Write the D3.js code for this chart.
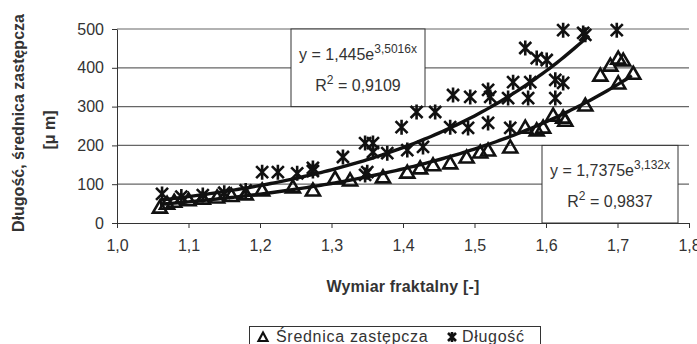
<!DOCTYPE html>
<meta charset="utf-8">
<style>
  body { margin: 0; background: #fff; }
  svg { display: block; }
  text { font-family: "Liberation Sans", Arial, sans-serif; fill: #333; }
  .grid line { stroke: #666; stroke-width: 1.2; }
  .axis path, .axis line { stroke: #333; }
  .mark { fill: none; stroke: #111; stroke-width: 2.6; }
  .fit { fill: none; stroke: #111; stroke-width: 3.4; }
  .box { fill: #fff; stroke: #333; stroke-width: 1; }
</style>
<body>
<svg width="697" height="344"></svg>
<script src="https://d3js.org/d3.v7.min.js"></script>
<script>
const xTicks = [1.0, 1.1, 1.2, 1.3, 1.4, 1.5, 1.6, 1.7, 1.8];
const yTicks = [0, 100, 200, 300, 400, 500];

// Średnica zastępcza (triangles)
const diamX = [1.06, 1.07, 1.08, 1.10, 1.12, 1.14, 1.16, 1.18, 1.203, 1.246, 1.274, 1.305, 1.326,
  1.372, 1.406, 1.424, 1.442, 1.466, 1.489, 1.508, 1.519, 1.55, 1.571, 1.587, 1.596, 1.61,
  1.624, 1.627, 1.655, 1.676, 1.69, 1.701, 1.708, 1.722, 1.701];
const diamY = [41, 51, 56, 60, 64, 67, 71, 75, 85, 93, 85, 116, 111,
  119, 131, 142, 150, 155, 170, 183, 188, 196, 247, 240, 247, 278,
  273, 265, 304, 381, 407, 425, 420, 386, 361];

// Długość (stars)
const lenX = [1.063, 1.09, 1.12, 1.15, 1.18, 1.203, 1.225, 1.252, 1.274, 1.274, 1.316, 1.347, 1.347,
  1.35, 1.358, 1.358, 1.378, 1.398, 1.406, 1.419, 1.428, 1.445, 1.466, 1.47, 1.491, 1.494,
  1.519, 1.519, 1.522, 1.547, 1.55, 1.554, 1.571, 1.575, 1.578, 1.587, 1.601, 1.613, 1.613,
  1.624, 1.624, 1.652, 1.655, 1.699];
const lenY = [75, 68, 72, 78, 84, 131, 131, 128, 134, 142, 170, 206, 124,
  131, 206, 183, 180, 247, 188, 286, 196, 286, 247, 330, 245, 325,
  343, 258, 325, 322, 245, 363, 451, 322, 363, 425, 420, 369, 322,
  497, 361, 490, 485, 497];

// trend lines shown in the chart: y = a * e^(b x)
const fitNames = ["diam", "len"];
const fitA = [1.7375, 1.445];
const fitB = [3.132, 3.5016];
const fitFrom = [1.06, 1.06];
const fitTo = [1.722, 1.66];

const svg = d3.select("svg");
const x = d3.scaleLinear().domain([1.0, 1.8]).range([117, 689]);
const y = d3.scaleLinear().domain([0, 500]).range([223, 29]);

svg.append("g").attr("class", "grid")
  .selectAll("line").data(yTicks.slice(1)).join("line")
  .attr("x1", x(1.0)).attr("x2", x(1.8))
  .attr("y1", d => y(d)).attr("y2", d => y(d));

const fmt = d => d3.format(".1f")(d).replace(".", ",");

svg.append("g").attr("class", "axis")
  .attr("transform", `translate(0,${y(0)})`)
  .call(d3.axisBottom(x).tickValues(xTicks).tickFormat(fmt).tickSize(5).tickSizeOuter(0).tickPadding(12))
  .call(g => g.selectAll("text").style("font-size", "16px").attr("fill", "#333").attr("font-family", null));

svg.append("g").attr("class", "axis")
  .attr("transform", `translate(${x(1.0)},0)`)
  .call(d3.axisLeft(y).tickValues(yTicks).tickSize(5).tickSizeOuter(0).tickPadding(8))
  .call(g => g.selectAll("text").style("font-size", "16px").attr("fill", "#333").attr("font-family", null));

// equation boxes
function eqBox(x0, x1, y0, y1, a, b, r2) {
  svg.append("rect").attr("class", "box")
    .attr("x", x0).attr("y", y0).attr("width", x1 - x0).attr("height", y1 - y0);
  const cx = (x0 + x1) / 2;
  const h = y1 - y0;
  const t1 = svg.append("text").attr("x", cx).attr("y", y0 + h * 0.4)
    .attr("text-anchor", "middle").style("font-size", "16px");
  t1.append("tspan").text("y = " + a + "e");
  t1.append("tspan").attr("dy", -7).style("font-size", "12px").text(b + "x");
  const t2 = svg.append("text").attr("x", cx).attr("y", y0 + h * 0.8)
    .attr("text-anchor", "middle").style("font-size", "16px");
  t2.append("tspan").text("R");
  t2.append("tspan").attr("dy", -7).style("font-size", "12px").text("2");
  t2.append("tspan").attr("dy", 7).text(" = " + r2);
}
eqBox(291, 425, y(500), y(300), "1,445", "3,5016", "0,9109");
eqBox(542, 678, y(200), y(0), "1,7375", "3,132", "0,9837");

// trend lines
const line = d3.line().x(d => x(d[0])).y(d => y(d[1])).curve(d3.curveLinear);
fitNames.forEach((n, i) => {
  const pts = d3.range(fitFrom[i], fitTo[i] + 0.0001, 0.005)
    .map(v => [v, fitA[i] * Math.exp(fitB[i] * v)]);
  svg.append("path").attr("class", "fit").attr("d", line(pts));
});

const tri = "M0,-6.5L7,5.5L-7,5.5Z";
const star = "M-6,-6L6,6M-6,6L6,-6M0,-7.5L0,7.5";

svg.append("g").selectAll("path").data(d3.zip(diamX, diamY)).join("path")
  .attr("class", "mark").attr("d", tri)
  .attr("transform", d => `translate(${x(d[0])},${y(d[1])})`);

svg.append("g").selectAll("path").data(d3.zip(lenX, lenY)).join("path")
  .attr("class", "mark").attr("d", star)
  .attr("transform", d => `translate(${x(d[0])},${y(d[1])})`);

// axis titles
svg.append("text").attr("x", 403).attr("y", 292).attr("text-anchor", "middle")
  .style("font-size", "16px").style("font-weight", "bold").style("letter-spacing", "0.2px")
  .text("Wymiar fraktalny [-]");

svg.append("text").attr("transform", "translate(24,123) rotate(-90)").attr("text-anchor", "middle")
  .style("font-size", "16px").style("font-weight", "bold").text("Długość, średnica zastępcza");
svg.append("text").attr("transform", "translate(55,130) rotate(-90)").attr("text-anchor", "middle")
  .style("font-size", "16px").style("font-weight", "bold").text("[μ m]");

// legend
const lg = svg.append("g");
lg.append("rect").attr("x", 249.5).attr("y", 326.5).attr("width", 291).attr("height", 30)
  .attr("fill", "#fff").attr("stroke", "#333");
lg.append("path").attr("d", "M0,-4.5L4.5,4L-4.5,4Z").attr("fill", "none").attr("stroke", "#111")
  .attr("stroke-width", 2.2).attr("transform", "translate(263,337)");
lg.append("text").attr("x", 276).attr("y", 342).style("font-size", "16px").style("letter-spacing", "0.7px")
  .text("Średnica zastępcza");
lg.append("path").attr("d", "M-4,-4L4,4M-4,4L4,-4M0,-5L0,5").attr("fill", "none").attr("stroke", "#111")
  .attr("stroke-width", 2.6).attr("transform", "translate(452,337)");
lg.append("text").attr("x", 462).attr("y", 342).style("font-size", "16px").style("letter-spacing", "0.7px")
  .text("Długość");
</script>
</body>
